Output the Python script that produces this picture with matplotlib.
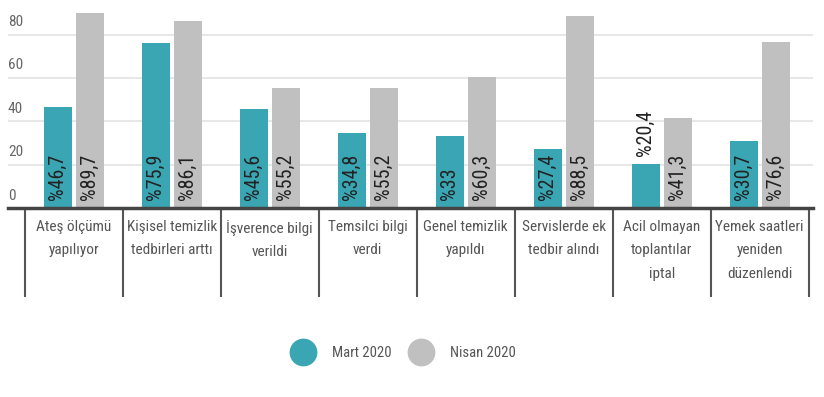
import matplotlib
matplotlib.use("Agg")
import matplotlib.pyplot as plt
from matplotlib.lines import Line2D
from matplotlib import font_manager
import numpy as np

categories = [
    "Ateş ölçümü\nyapılıyor",
    "Kişisel temizlik\ntedbirleri arttı",
    "İşverence bilgi\nverildi",
    "Temsilci bilgi\nverdi",
    "Genel temizlik\nyapıldı",
    "Servislerde ek\ntedbir alındı",
    "Acil olmayan\ntoplantılar\niptal",
    "Yemek saatleri\nyeniden\ndüzenlendi",
]
mart = [46.7, 75.9, 45.6, 34.8, 33, 27.4, 20.4, 30.7]
nisan = [89.7, 86.1, 55.2, 55.2, 60.3, 88.5, 41.3, 76.6]
mart_labels = ["%46,7", "%75,9", "%45,6", "%34,8", "%33", "%27,4", "%20,4", "%30,7"]
nisan_labels = ["%89,7", "%86,1", "%55,2", "%55,2", "%60,3", "%88,5", "%41,3", "%76,6"]
yticks = [0, 20, 40, 60, 80]

TEAL = "#3aa6b4"
GRAY = "#c0c0c0"

# look for a narrow face, fall back to plain DejaVu Sans
names = {f.name for f in font_manager.fontManager.ttflist}
narrow = [n for n in ["Liberation Sans Narrow", "DejaVu Sans Condensed",
                      "Roboto Condensed", "Open Sans Condensed"] if n in names]
if narrow:
    plt.rcParams["font.family"] = [narrow[0], "DejaVu Sans"]
    scale = 1.0
else:
    plt.rcParams["font.family"] = ["DejaVu Sans"]
    plt.rcParams["font.stretch"] = "condensed"
    scale = 0.88

fig = plt.figure(figsize=(8.24, 3.97), dpi=100)
ax = fig.add_axes([0.0097, 0.476, 0.977, 0.519])

x = np.arange(len(categories))
off, w = 0.163, 0.285
ax.bar(x - off, mart, w, color=TEAL, zorder=3)
ax.bar(x + off, nisan, w, color=GRAY, zorder=3)

ax.set_xlim(-0.67, 7.545)
ax.set_ylim(0, 95)

for t in yticks[1:]:
    ax.axhline(t, color="#e3e3e3", lw=1.2, zorder=1)
for t in yticks:
    ax.text(0.0, t + 2.5, str(t), transform=ax.get_yaxis_transform(),
            ha="left", va="bottom", fontsize=11 * scale, color="#666666")

for i in range(len(categories)):
    # value labels, inside the bar unless it is too short
    ym = mart[i] + 3.5 if mart[i] < 25 else 3.8
    ax.text(x[i] - off, ym, mart_labels[i], rotation=90, ha="center",
            va="bottom", fontsize=14.5 * scale, color="#222222", zorder=4)
    ax.text(x[i] + off, 3.8, nisan_labels[i], rotation=90, ha="center",
            va="bottom", fontsize=14.5 * scale, color="#222222", zorder=4)
    ax.text(x[i], -5.5, categories[i], ha="center", va="top",
            fontsize=11 * scale, color="#555555", linespacing=1.85)

ax.vlines(np.arange(len(categories) + 1) - 0.5, -41, 0, colors="#555555",
          lw=1.5, clip_on=False)
ax.axhline(0, color="#444444", lw=2.5, zorder=5, clip_on=False)

for s in ax.spines.values():
    s.set_visible(False)
ax.set_xticks([])
ax.set_yticks([])

handles = [
    Line2D([], [], marker="o", ls="", ms=19, color=TEAL, label="Mart 2020"),
    Line2D([], [], marker="o", ls="", ms=19, color=GRAY, label="Nisan 2020"),
]
leg = fig.legend(handles=handles, loc="center", bbox_to_anchor=(0.488, 0.11),
                 ncol=2, frameon=False, fontsize=10.5 * scale, handletextpad=1.0,
                 columnspacing=1.0)
for t in leg.get_texts():
    t.set_color("#555555")

fig.savefig("out.png", dpi=100)
